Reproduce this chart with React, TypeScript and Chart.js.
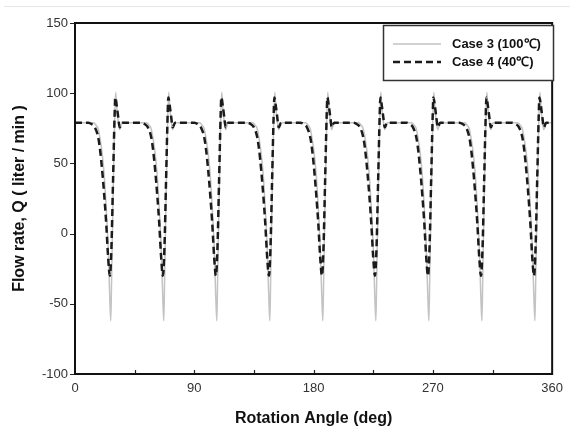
import { useEffect, useRef } from "react";
import { Chart, registerables } from "chart.js";

Chart.register(...registerables);

const FONT = "'Liberation Sans', Arial, Helvetica, sans-serif";

// Case 4 (40℃) — dashed black
const case4Angle = [
  0,
  10, 12.5, 15, 17.5, 19, 20.5, 22, 23.5, 25, 26.3, 27.5, 28.7, 29.9, 30.4, 31.5, 32.6, 33.7, 35.5,
  50, 52.5, 55, 57.5, 59, 60.5, 62, 63.5, 65, 66.3, 67.5, 68.7, 69.9, 70.4, 71.5, 72.6, 73.7, 75.5,
  90, 92.5, 95, 97.5, 99, 100.5, 102, 103.5, 105, 106.3, 107.5, 108.7, 109.9, 110.4, 111.5, 112.6, 113.7, 115.5,
  130, 132.5, 135, 137.5, 139, 140.5, 142, 143.5, 145, 146.3, 147.5, 148.7, 149.9, 150.4, 151.5, 152.6, 153.7, 155.5,
  170, 172.5, 175, 177.5, 179, 180.5, 182, 183.5, 185, 186.3, 187.5, 188.7, 189.9, 190.4, 191.5, 192.6, 193.7, 195.5,
  210, 212.5, 215, 217.5, 219, 220.5, 222, 223.5, 225, 226.3, 227.5, 228.7, 229.9, 230.4, 231.5, 232.6, 233.7, 235.5,
  250, 252.5, 255, 257.5, 259, 260.5, 262, 263.5, 265, 266.3, 267.5, 268.7, 269.9, 270.4, 271.5, 272.6, 273.7, 275.5,
  290, 292.5, 295, 297.5, 299, 300.5, 302, 303.5, 305, 306.3, 307.5, 308.7, 309.9, 310.4, 311.5, 312.6, 313.7, 315.5,
  330, 332.5, 335, 337.5, 339, 340.5, 342, 343.5, 345, 346.3, 347.5, 348.7, 349.9, 350.4, 351.5, 352.6, 353.7, 355.5,
  360,
];
const case4Flow = [
  79,
  79, 78, 75.7, 68.6, 59, 45, 28, 8, -17, -30, -9.7, 37.7, 85, 97, 91, 83, 75.7, 79,
  79, 78, 75.7, 68.6, 59, 45, 28, 8, -17, -30, -9.7, 37.7, 85, 97, 91, 83, 75.7, 79,
  79, 78, 75.7, 68.6, 59, 45, 28, 8, -17, -30, -9.7, 37.7, 85, 97, 91, 83, 75.7, 79,
  79, 78, 75.7, 68.6, 59, 45, 28, 8, -17, -30, -9.7, 37.7, 85, 97, 91, 83, 75.7, 79,
  79, 78, 75.7, 68.6, 59, 45, 28, 8, -17, -30, -9.7, 37.7, 85, 97, 91, 83, 75.7, 79,
  79, 78, 75.7, 68.6, 59, 45, 28, 8, -17, -30, -9.7, 37.7, 85, 97, 91, 83, 75.7, 79,
  79, 78, 75.7, 68.6, 59, 45, 28, 8, -17, -30, -9.7, 37.7, 85, 97, 91, 83, 75.7, 79,
  79, 78, 75.7, 68.6, 59, 45, 28, 8, -17, -30, -9.7, 37.7, 85, 97, 91, 83, 75.7, 79,
  79, 78, 75.7, 68.6, 59, 45, 28, 8, -17, -30, -9.7, 37.7, 85, 97, 91, 83, 75.7, 79,
  79,
];

// Case 3 (100℃) — thin light grey
const case3Angle = [
  0,
  14, 16, 17.5, 19, 20.5, 22, 23.5, 25, 26.2, 27, 27.6, 28.7, 29.9, 30.7, 31.6, 32.5, 33.7, 35.5,
  54, 56, 57.5, 59, 60.5, 62, 63.5, 65, 66.2, 67, 67.6, 68.7, 69.9, 70.7, 71.6, 72.5, 73.7, 75.5,
  94, 96, 97.5, 99, 100.5, 102, 103.5, 105, 106.2, 107, 107.6, 108.7, 109.9, 110.7, 111.6, 112.5, 113.7, 115.5,
  134, 136, 137.5, 139, 140.5, 142, 143.5, 145, 146.2, 147, 147.6, 148.7, 149.9, 150.7, 151.6, 152.5, 153.7, 155.5,
  174, 176, 177.5, 179, 180.5, 182, 183.5, 185, 186.2, 187, 187.6, 188.7, 189.9, 190.7, 191.6, 192.5, 193.7, 195.5,
  214, 216, 217.5, 219, 220.5, 222, 223.5, 225, 226.2, 227, 227.6, 228.7, 229.9, 230.7, 231.6, 232.5, 233.7, 235.5,
  254, 256, 257.5, 259, 260.5, 262, 263.5, 265, 266.2, 267, 267.6, 268.7, 269.9, 270.7, 271.6, 272.5, 273.7, 275.5,
  294, 296, 297.5, 299, 300.5, 302, 303.5, 305, 306.2, 307, 307.6, 308.7, 309.9, 310.7, 311.6, 312.5, 313.7, 315.5,
  334, 336, 337.5, 339, 340.5, 342, 343.5, 345, 346.2, 347, 347.6, 348.7, 349.9, 350.7, 351.6, 352.5, 353.7, 355.5,
  360,
];
const case3Flow = [
  79,
  79, 77, 74.6, 67, 57, 42, 19, -9.7, -45, -62, -33, 26, 80, 100.6, 89, 81, 74, 79,
  79, 77, 74.6, 67, 57, 42, 19, -9.7, -45, -62, -33, 26, 80, 100.6, 89, 81, 74, 79,
  79, 77, 74.6, 67, 57, 42, 19, -9.7, -45, -62, -33, 26, 80, 100.6, 89, 81, 74, 79,
  79, 77, 74.6, 67, 57, 42, 19, -9.7, -45, -62, -33, 26, 80, 100.6, 89, 81, 74, 79,
  79, 77, 74.6, 67, 57, 42, 19, -9.7, -45, -62, -33, 26, 80, 100.6, 89, 81, 74, 79,
  79, 77, 74.6, 67, 57, 42, 19, -9.7, -45, -62, -33, 26, 80, 100.6, 89, 81, 74, 79,
  79, 77, 74.6, 67, 57, 42, 19, -9.7, -45, -62, -33, 26, 80, 100.6, 89, 81, 74, 79,
  79, 77, 74.6, 67, 57, 42, 19, -9.7, -45, -62, -33, 26, 80, 100.6, 89, 81, 74, 79,
  79, 77, 74.6, 67, 57, 42, 19, -9.7, -45, -62, -33, 26, 80, 100.6, 89, 81, 74, 79,
  79,
];

const seriesLabels = ["Case 3 (100℃)", "Case 4 (40℃)"];
const yTickValues = [-100, -50, 0, 50, 100, 150];
const xMinorTicks = [45, 90, 135, 180, 225, 270, 315];

const toPoints = (xs: number[], ys: number[]) => xs.map((x, i) => ({ x, y: ys[i] }));

const framePlugin = {
  id: "frameAndLegend",
  beforeDraw(chart: any) {
    const ctx = chart.ctx;
    ctx.save();
    ctx.fillStyle = "#ffffff";
    ctx.fillRect(0, 0, chart.width, chart.height);
    ctx.strokeStyle = "#e6e6e6";
    ctx.lineWidth = 1;
    ctx.beginPath();
    ctx.moveTo(4, 6.5);
    ctx.lineTo(chart.width, 6.5);
    ctx.stroke();
    ctx.restore();
  },
  afterDatasetsDraw(chart: any) {
    const ctx = chart.ctx;
    const { left, right, top, bottom } = chart.chartArea;
    const xs = chart.scales.x;
    const ys = chart.scales.y;
    ctx.save();
    // ticks
    ctx.strokeStyle = "#222";
    ctx.lineWidth = 1.2;
    ctx.beginPath();
    for (const v of yTickValues) {
      const py = Math.round(ys.getPixelForValue(v)) + 0.5;
      ctx.moveTo(left - 5, py);
      ctx.lineTo(left, py);
    }
    for (const v of xMinorTicks) {
      const px = Math.round(xs.getPixelForValue(v)) + 0.5;
      ctx.moveTo(px, bottom);
      ctx.lineTo(px, bottom - 4);
    }
    ctx.stroke();
    // frame
    ctx.strokeStyle = "#111";
    ctx.lineWidth = 2;
    ctx.strokeRect(left, top, right - left, bottom - top);

    // legend box
    const bx = 383.5, by = 25.5, bw = 170, bh = 55;
    ctx.fillStyle = "#ffffff";
    ctx.fillRect(bx, by, bw, bh);
    ctx.strokeStyle = "#333";
    ctx.lineWidth = 1.5;
    ctx.strokeRect(bx, by, bw, bh);

    const ds = chart.data.datasets;
    const rows = [
      { d: ds[1], y: 44 },
      { d: ds[0], y: 62 },
    ];
    ctx.font = `bold 13px ${FONT}`;
    ctx.textBaseline = "middle";
    ctx.textAlign = "left";
    for (const r of rows) {
      ctx.save();
      ctx.strokeStyle = r.d.borderColor;
      ctx.lineWidth = r.d.borderWidth;
      ctx.setLineDash(r.d.borderDash || []);
      ctx.beginPath();
      ctx.moveTo(393, r.y);
      ctx.lineTo(441, r.y);
      ctx.stroke();
      ctx.restore();
      ctx.fillStyle = "#111";
      ctx.fillText(r.d.label, 452, r.y + 0.5);
    }
    ctx.restore();
  },
};

export default function App() {
  const ref = useRef<HTMLCanvasElement | null>(null);

  useEffect(() => {
    document.body.style.margin = "0";
    const canvas = ref.current;
    if (!canvas) return;
    const chart = new Chart(canvas, {
      type: "line",
      data: {
        datasets: [
          {
            label: seriesLabels[1],
            data: toPoints(case4Angle, case4Flow),
            borderColor: "#1b1b1b",
            borderWidth: 2.5,
            borderDash: [7, 4],
            pointRadius: 0,
            fill: false,
            cubicInterpolationMode: "monotone",
            order: 0,
          },
          {
            label: seriesLabels[0],
            data: toPoints(case3Angle, case3Flow),
            borderColor: "#c3c3c3",
            borderWidth: 1.5,
            pointRadius: 0,
            fill: false,
            cubicInterpolationMode: "monotone",
            order: 1,
          },
        ],
      },
      options: {
        responsive: false,
        animation: false,
        devicePixelRatio: 1,
        layout: { padding: { left: 0, right: 14, top: 23, bottom: 0 } },
        plugins: {
          legend: { display: false },
          tooltip: { enabled: false },
        },
        scales: {
          x: {
            type: "linear",
            min: 0,
            max: 360,
            afterFit: (s: any) => {
              s.height = 54;
            },
            grid: { display: false, drawTicks: false },
            border: { display: false },
            ticks: {
              stepSize: 90,
              padding: 7,
              color: "#333",
              maxRotation: 0,
              autoSkip: false,
              font: { family: FONT, size: 13 },
            },
            title: {
              display: true,
              text: "Rotation Angle (deg)",
              color: "#111",
              font: { family: FONT, size: 16, weight: "bold" },
              padding: { top: 0, bottom: 0 },
            },
          },
          y: {
            type: "linear",
            min: -100,
            max: 150,
            afterFit: (s: any) => {
              s.width = 75;
            },
            grid: { display: false, drawTicks: false },
            border: { display: false },
            ticks: {
              stepSize: 50,
              padding: 7,
              color: "#333",
              font: { family: FONT, size: 13 },
            },
            title: {
              display: true,
              text: "Flow rate, Q ( liter / min )",
              color: "#111",
              font: { family: FONT, size: 16, weight: "bold" },
              padding: { top: 10, bottom: 0 },
            },
          },
        },
      },
      plugins: [framePlugin],
    } as any);
    return () => chart.destroy();
  }, []);

  return (
    <canvas
      ref={ref}
      width={570}
      height={428}
      style={{ display: "block", width: 570, height: 428 }}
    />
  );
}
